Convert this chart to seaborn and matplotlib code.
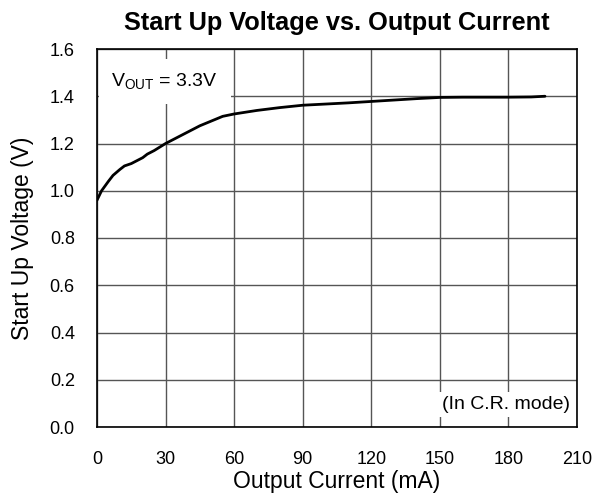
import seaborn as sns
import pandas as pd
import matplotlib.pyplot as plt

# Datos
corriente_ma = [0, 2, 5, 7, 10, 12, 15, 20, 22, 25, 30, 35, 40, 45, 50, 55, 60,
                70, 80, 90, 100, 110, 120, 130, 140, 150, 160, 170, 180, 190, 196]
voltaje_v = [0.96, 1.00, 1.04, 1.065, 1.09, 1.105, 1.115, 1.14, 1.155, 1.17, 1.2,
             1.225, 1.25, 1.275, 1.295, 1.315, 1.325, 1.34, 1.352, 1.362, 1.367,
             1.372, 1.378, 1.384, 1.39, 1.395, 1.396, 1.396, 1.396, 1.397, 1.40]
x_ticks = [0, 30, 60, 90, 120, 150, 180, 210]
y_ticks = [0.0, 0.2, 0.4, 0.6, 0.8, 1.0, 1.2, 1.4, 1.6]

df = pd.DataFrame({'Corriente': corriente_ma, 'Voltaje': voltaje_v})

sns.set_style('white')
plt.rcParams['font.family'] = ['Liberation Sans', 'DejaVu Sans']
plt.rcParams['text.color'] = 'black'
plt.rcParams['axes.labelcolor'] = 'black'

fig = plt.figure(figsize=(6.1, 5.0), dpi=100)
ax = fig.add_axes([97 / 610, 1 - 427 / 500, 480 / 610, 378 / 500])

sns.lineplot(data=df, x='Corriente', y='Voltaje', color='black', linewidth=2, ax=ax)

ax.set_xlim(0, 210)
ax.set_ylim(0, 1.6)
ax.set_xticks(x_ticks)
ax.set_yticks(y_ticks)
ax.set_yticklabels([f'{v:.1f}' for v in y_ticks])
ax.grid(True, color='#555555', linewidth=1)
ax.tick_params(direction='in', length=4, labelsize=13, color='#555555', labelcolor='black')
ax.tick_params(axis='x', pad=17)
ax.tick_params(axis='y', pad=16)
for s in ax.spines.values():
    s.set_color('black')
    s.set_linewidth(1.2)

ax.set_xlabel('Output Current (mA)', fontsize=16.5, labelpad=2)
ax.set_ylabel('Start Up Voltage (V)', fontsize=16.5, labelpad=11)
ax.set_title('Start Up Voltage vs. Output Current', fontsize=18.3, fontweight='bold', pad=14)

# Cajas de texto
ax.text(0.03, 0.915, r'$\mathregular{V_{OUT}}$ = 3.3V', transform=ax.transAxes,
        fontsize=14, va='center', ha='left', zorder=5,
        bbox=dict(facecolor='white', edgecolor='none', pad=9))
ax.text(0.985, 0.06, '(In C.R. mode)', transform=ax.transAxes,
        fontsize=14, va='center', ha='right', zorder=5,
        bbox=dict(facecolor='white', edgecolor='none', pad=3))

plt.savefig('out.png', dpi=100)
plt.close()
